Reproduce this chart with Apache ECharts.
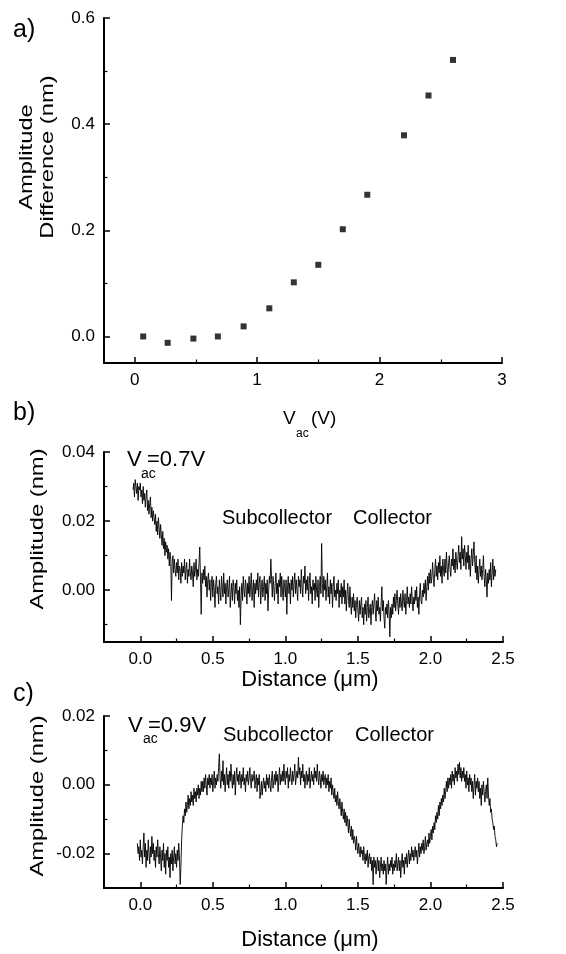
<!DOCTYPE html>
<html>
<head>
<meta charset="utf-8">
<script src="https://cdn.jsdelivr.net/npm/echarts@6/dist/echarts.min.js"></script>
<style>html,body{margin:0;padding:0;background:#fff}#c{width:566px;height:954px}</style>
</head>
<body>
<div id="c"></div>
<script>
// ---- Panel a: amplitude difference vs V_ac ----
const voltage = [0.07, 0.27, 0.48, 0.68, 0.89, 1.10, 1.30, 1.50, 1.70, 1.90, 2.20, 2.40, 2.60];
const ampDiff = [0.000, -0.012, -0.004, 0.000, 0.019, 0.053, 0.102, 0.135, 0.202, 0.267, 0.379, 0.454, 0.521];
const aXMajor = [0, 1, 2, 3];
const aXMinor = [0.5, 1.5, 2.5];
const aYMajor = [0, 0.2, 0.4, 0.6];
const aYMinor = [0.1, 0.3, 0.5];

// ---- Panel b: V_ac = 0.7 V line profile (sampled every 0.005 um from -0.05 um) ----
const distStartB = -0.05;
const distStepB = 0.005;
const ampB = [
0.029,0.031,0.027,0.032,0.030,0.028,0.031,0.026,0.030,0.029,
0.031,0.027,0.029,0.025,0.030,0.026,0.028,0.024,0.027,0.029,
0.023,0.026,0.022,0.025,0.027,0.021,0.024,0.020,0.023,0.021,
0.019,0.022,0.017,0.020,0.016,0.021,0.018,0.015,0.019,0.016,
0.013,0.017,0.012,0.015,0.010,0.014,0.011,0.013,0.009,0.012,
0.007,0.011,0.009,-0.003,0.008,0.010,0.005,0.009,0.006,0.004,
0.008,0.005,0.009,0.003,0.007,0.006,0.002,0.008,0.004,0.007,
0.005,0.009,0.003,0.006,0.008,0.002,0.006,0.004,0.009,0.005,
0.003,0.007,0.005,0.001,0.008,0.004,0.006,0.009,0.003,0.006,
0.004,0.008,0.0125,0.003,-0.007,0.005,0.002,0.006,0.003,0.007,
0.001,0.004,-0.002,0.003,0.005,0.000,0.003,-0.003,0.002,0.004,
-0.002,0.003,0.000,-0.005,0.002,0.004,-0.001,0.001,-0.004,0.003,
0.000,-0.003,0.004,0.001,-0.002,0.005,-0.001,0.002,-0.004,0.001,
0.003,-0.002,0.000,0.004,-0.005,-0.001,0.002,-0.003,0.003,0.001,
-0.004,0.002,-0.001,0.003,-0.003,0.000,-0.005,0.001,-0.010,-0.002,
0.002,-0.003,0.004,0.000,-0.002,0.003,0.001,-0.004,0.002,-0.001,
0.004,-0.002,0.001,0.005,-0.003,0.000,0.003,-0.005,0.002,-0.001,
0.003,0.000,0.005,-0.002,0.002,0.004,-0.004,0.001,0.003,-0.002,
0.001,0.004,-0.003,0.002,-0.001,0.003,-0.006,0.000,0.004,0.002,
0.009,0.003,-0.002,0.004,0.001,-0.003,0.002,0.005,-0.001,0.002,
-0.004,0.003,0.001,0.005,-0.002,0.004,0.000,-0.003,0.003,0.001,
-0.002,0.003,-0.007,0.001,0.004,-0.001,0.002,-0.004,0.003,0.000,
0.004,-0.002,0.002,0.005,-0.001,0.003,0.000,-0.003,0.004,0.001,
0.003,-0.001,0.006,0.001,-0.002,0.004,0.002,0.007,-0.001,0.003,
0.000,0.004,-0.003,0.002,0.005,-0.001,0.001,-0.004,0.003,0.000,
0.002,-0.003,0.004,0.000,-0.002,0.003,-0.005,0.001,0.004,-0.001,
0.0135,0.002,-0.002,0.004,0.000,0.003,-0.003,0.001,0.005,-0.002,
0.001,-0.004,0.003,-0.001,0.002,-0.005,0.001,0.004,-0.002,0.000,
-0.003,0.002,-0.001,0.003,-0.005,0.000,-0.002,0.002,-0.004,0.001,
-0.002,0.003,-0.004,0.000,-0.006,-0.001,0.002,-0.003,-0.005,0.001,
-0.004,-0.007,-0.002,-0.005,-0.001,-0.006,-0.003,-0.008,-0.004,-0.002,
-0.006,-0.009,-0.003,-0.007,-0.004,-0.002,-0.008,-0.005,-0.010,-0.004,
-0.007,-0.003,-0.009,-0.005,-0.002,-0.008,-0.006,-0.004,-0.010,-0.005,
-0.003,-0.007,-0.004,-0.001,-0.006,-0.009,-0.003,-0.006,-0.002,-0.007,
-0.005,-0.009,-0.004,0.001,-0.006,-0.003,-0.008,-0.011,-0.005,-0.007,
-0.004,-0.008,-0.003,-0.006,-0.0135,-0.005,-0.008,-0.004,-0.007,-0.002,
-0.005,-0.001,-0.006,-0.003,0.000,-0.004,-0.007,-0.002,-0.005,-0.001,
-0.004,-0.006,0.000,-0.003,-0.005,-0.001,-0.007,-0.003,0.001,-0.004,
-0.002,-0.005,-0.001,-0.004,0.001,-0.003,-0.006,-0.002,-0.004,0.000,
-0.003,0.001,-0.005,-0.002,-0.007,-0.001,0.002,-0.003,-0.004,0.000,
-0.002,0.002,-0.001,0.003,-0.003,0.001,0.004,0.000,0.005,0.002,
0.006,0.002,0.004,0.008,0.003,0.001,0.006,0.009,0.004,0.007,
0.003,0.008,0.005,0.010,0.004,0.007,0.002,0.009,0.006,0.004,
0.009,0.005,0.011,0.007,0.003,0.008,0.010,0.006,0.004,0.009,
0.007,0.012,0.006,0.009,0.005,0.011,0.008,0.006,0.010,0.013,
0.008,0.011,0.006,0.0155,0.009,0.012,0.007,0.013,0.010,0.006,
0.011,0.008,0.013,0.006,0.010,0.004,0.009,0.012,0.007,0.010,
0.014,0.008,0.005,0.010,0.003,0.007,0.002,0.006,0.009,0.004,
0.007,0.003,0.006,0.010,0.004,0.001,0.006,0.003,-0.002,0.005,
0.002,0.006,0.003,0.008,0.001,0.005,0.009,0.003,0.007,0.004,
0.006
];

// ---- Panel c: V_ac = 0.9 V line profile (sampled every 0.005 um from -0.02 um) ----
const distStartC = -0.02;
const distStepC = 0.005;
const ampC = [
-0.017,-0.020,-0.018,-0.022,-0.016,-0.021,-0.019,-0.023,-0.018,-0.014,
-0.021,-0.017,-0.024,-0.019,-0.022,-0.016,-0.020,-0.023,-0.018,-0.021,
-0.015,-0.020,-0.017,-0.022,-0.019,-0.024,-0.018,-0.021,-0.016,-0.020,
-0.023,-0.018,-0.021,-0.025,-0.019,-0.022,-0.017,-0.024,-0.020,-0.026,
-0.019,-0.022,-0.018,-0.024,-0.021,-0.027,-0.020,-0.023,-0.019,-0.025,
-0.021,-0.018,-0.023,-0.020,-0.024,-0.019,-0.022,-0.017,-0.021,-0.029,
-0.024,-0.016,-0.012,-0.009,-0.011,-0.007,-0.009,-0.005,-0.008,-0.006,
-0.003,-0.007,-0.004,-0.006,-0.002,-0.005,-0.003,-0.006,-0.001,-0.004,
-0.002,-0.005,-0.001,-0.003,0.000,-0.004,-0.001,-0.003,0.001,-0.002,
0.001,-0.002,0.002,-0.001,0.003,0.000,-0.003,0.002,0.000,0.003,
-0.001,0.002,0.000,0.003,-0.002,0.001,0.004,-0.001,0.002,0.000,
0.003,0.001,0.005,0.009,0.002,-0.001,0.004,0.001,0.007,0.000,
0.003,-0.002,0.002,0.005,0.000,0.003,-0.001,0.004,0.001,0.006,
0.002,-0.001,0.003,0.000,0.004,-0.003,0.002,0.005,0.001,0.003,
0.000,0.004,0.002,-0.001,0.003,0.001,0.005,0.000,0.002,-0.002,
0.003,0.001,0.004,0.000,0.002,0.005,0.001,-0.001,0.003,0.001,
0.002,0.004,-0.001,0.001,0.003,-0.002,0.002,0.000,0.003,-0.004,
-0.002,0.001,-0.003,0.000,0.002,-0.001,0.001,-0.002,0.003,0.000,
0.002,-0.001,0.003,0.000,-0.002,0.002,0.004,-0.001,0.001,0.003,
0.000,0.004,0.001,0.003,-0.002,0.002,0.005,0.000,0.003,0.001,
0.004,0.001,0.006,0.002,0.000,0.004,0.002,0.005,-0.001,0.003,
0.001,0.005,0.002,0.000,0.004,0.001,0.003,0.006,0.000,0.002,
0.004,0.002,0.008,0.003,0.005,0.000,0.004,0.002,0.006,0.001,
0.003,-0.001,0.002,0.004,0.000,0.003,0.001,0.005,-0.001,0.002,
0.004,0.001,0.003,0.000,0.005,0.002,0.004,0.001,0.006,0.002,
0.000,0.004,0.002,-0.001,0.003,0.001,0.004,0.000,0.002,0.003,
-0.001,0.002,0.000,0.003,-0.002,0.001,-0.001,0.002,-0.003,0.000,
-0.002,-0.004,-0.001,-0.005,-0.003,-0.006,-0.002,-0.005,-0.007,-0.004,
-0.006,-0.009,-0.005,-0.008,-0.010,-0.007,-0.011,-0.008,-0.012,-0.009,
-0.011,-0.014,-0.010,-0.013,-0.015,-0.012,-0.016,-0.013,-0.017,-0.015,
-0.016,-0.019,-0.015,-0.018,-0.020,-0.017,-0.019,-0.021,-0.018,-0.020,
-0.019,-0.022,-0.018,-0.021,-0.023,-0.020,-0.022,-0.019,-0.024,-0.021,
-0.020,-0.023,-0.021,-0.025,-0.022,-0.029,-0.021,-0.024,-0.022,-0.026,
-0.023,-0.021,-0.025,-0.022,-0.027,-0.024,-0.021,-0.025,-0.023,-0.026,
-0.022,-0.025,-0.023,-0.029,-0.024,-0.021,-0.026,-0.023,-0.025,-0.022,
-0.024,-0.021,-0.026,-0.023,-0.025,-0.022,-0.024,-0.020,-0.025,-0.023,
-0.021,-0.025,-0.022,-0.027,-0.023,-0.020,-0.024,-0.022,-0.026,-0.021,
-0.023,-0.020,-0.024,-0.021,-0.019,-0.023,-0.020,-0.022,-0.018,-0.021,
-0.019,-0.022,-0.020,-0.018,-0.021,-0.019,-0.023,-0.020,-0.017,-0.021,
-0.018,-0.020,-0.017,-0.019,-0.016,-0.020,-0.018,-0.015,-0.019,-0.017,
-0.016,-0.018,-0.014,-0.017,-0.015,-0.013,-0.016,-0.012,-0.014,-0.011,
-0.013,-0.009,-0.011,-0.008,-0.010,-0.006,-0.009,-0.005,-0.007,-0.004,
-0.006,-0.003,-0.005,-0.001,-0.004,-0.002,0.001,-0.002,0.002,-0.001,
0.002,0.000,0.003,-0.001,0.004,0.001,0.003,0.000,0.005,0.002,
0.004,0.001,0.006,0.003,0.0065,0.002,0.005,0.001,0.004,0.002,
0.005,0.001,0.003,-0.001,0.004,0.000,0.002,-0.002,0.003,0.000,
0.002,-0.002,0.001,-0.004,0.000,0.003,-0.003,0.001,-0.001,0.002,
-0.002,0.001,-0.004,-0.001,-0.006,0.000,-0.003,0.001,-0.002,-0.005,
-0.002,0.000,-0.004,0.002,-0.003,-0.006,-0.004,-0.008,-0.007,-0.010,
-0.011,-0.013,-0.012,-0.015,-0.016,-0.018,-0.017
];

const distXMajor = [0, 0.5, 1.0, 1.5, 2.0, 2.5];
const distXMinor = [0.25, 0.75, 1.25, 1.75, 2.25];
const bYMajor = [0, 0.02, 0.04];
const bYMinor = [-0.01, 0.01, 0.03];
const cYMajor = [-0.02, 0, 0.02];
const cYMinor = [-0.01, 0.01];

const FONT = "'Liberation Sans', Arial, sans-serif";

const seriesA = voltage.map((v, i) => [v, ampDiff[i]]);
const seriesB = ampB.map((v, i) => [+(distStartB + i * distStepB).toFixed(3), v]);
const seriesC = ampC.map((v, i) => [+(distStartC + i * distStepC).toFixed(3), v]);

function mainAxis(grid, min, max, major, dec, pos) {
  return {
    type: 'value', gridIndex: grid, min: min, max: max, position: pos,
    axisLine: { show: true, onZero: false, lineStyle: { color: '#000', width: 2 } },
    axisTick: { show: true, inside: true, length: 6, customValues: major, lineStyle: { color: '#000', width: 1.5 } },
    axisLabel: { show: true, customValues: major, margin: 9, color: '#000', fontSize: 17, fontFamily: FONT,
      formatter: v => (Math.abs(v) < 1e-9 ? 0 : v).toFixed(dec) },
    splitLine: { show: false }
  };
}
function minorAxis(grid, min, max, minor, pos) {
  return {
    type: 'value', gridIndex: grid, min: min, max: max, position: pos,
    axisLine: { show: false, onZero: false },
    axisTick: { show: true, inside: true, length: 3.5, customValues: minor, lineStyle: { color: '#000', width: 1.2 } },
    axisLabel: { show: false },
    splitLine: { show: false }
  };
}

function txt(x, y, text, size, align) {
  return {
    type: 'text', x: x, y: y,
    style: { text: text, fill: '#000', font: size + 'px ' + FONT, align: align || 'left', verticalAlign: 'middle' }
  };
}
function vtxt(x, y, text, size, lh) {
  return {
    type: 'text', x: x, y: y, rotation: Math.PI / 2, scaleX: 1.32,
    style: { text: text, fill: '#000', font: size + 'px ' + FONT, align: 'center', verticalAlign: 'middle', lineHeight: lh || size }
  };
}

const chart = echarts.init(document.getElementById('c'), null, { renderer: 'canvas' });
chart.setOption({
  animation: false,
  backgroundColor: '#fff',
  grid: [
    { left: 104, top: 18, width: 398, height: 345 },
    { left: 104, top: 452, width: 399, height: 190 },
    { left: 104, top: 716, width: 399, height: 172 }
  ],
  xAxis: [
    mainAxis(0, -0.25, 3, aXMajor, 0, 'bottom'),
    minorAxis(0, -0.25, 3, aXMinor, 'bottom'),
    mainAxis(1, -0.25, 2.5, distXMajor, 1, 'bottom'),
    minorAxis(1, -0.25, 2.5, distXMinor, 'bottom'),
    mainAxis(2, -0.25, 2.5, distXMajor, 1, 'bottom'),
    minorAxis(2, -0.25, 2.5, distXMinor, 'bottom')
  ],
  yAxis: [
    mainAxis(0, -0.05, 0.6, aYMajor, 1, 'left'),
    minorAxis(0, -0.05, 0.6, aYMinor, 'left'),
    mainAxis(1, -0.015, 0.04, bYMajor, 2, 'left'),
    minorAxis(1, -0.015, 0.04, bYMinor, 'left'),
    mainAxis(2, -0.03, 0.02, cYMajor, 2, 'left'),
    minorAxis(2, -0.03, 0.02, cYMinor, 'left')
  ],
  series: [
    { type: 'scatter', xAxisIndex: 0, yAxisIndex: 0, data: seriesA, symbol: 'rect', symbolSize: 6,
      itemStyle: { color: '#000' } },
    { type: 'line', xAxisIndex: 2, yAxisIndex: 2, data: seriesB, showSymbol: false, symbol: 'none',
      lineStyle: { color: '#000', width: 0.9 } },
    { type: 'line', xAxisIndex: 4, yAxisIndex: 4, data: seriesC, showSymbol: false, symbol: 'none',
      lineStyle: { color: '#000', width: 0.9 } }
  ],
  graphic: [
    txt(13, 30, 'a)', 25),
    txt(13, 413, 'b)', 25),
    txt(13, 694, 'c)', 25),
    // panel a titles
    vtxt(38, 157, 'Amplitude\nDifference (nm)', 18, 21),
    txt(283, 418.5, 'V', 19),
    txt(296, 434, 'ac', 12),
    txt(311, 418.5, '(V)', 19),
    // panel b
    vtxt(38, 529, 'Amplitude (nm)', 18),
    txt(310, 680, 'Distance (\u03bcm)', 22, 'center'),
    txt(127, 460, 'V', 22),
    txt(141, 474, 'ac', 14),
    txt(147, 460, '=0.7V', 22),
    txt(222, 518, 'Subcollector', 20),
    txt(353, 518, 'Collector', 20),
    // panel c
    vtxt(38, 796, 'Amplitude (nm)', 18),
    txt(310, 940, 'Distance (\u03bcm)', 22, 'center'),
    txt(128, 726, 'V', 22),
    txt(143, 739, 'ac', 14),
    txt(148, 726, '=0.9V', 22),
    txt(223, 735, 'Subcollector', 20),
    txt(355, 735, 'Collector', 20)
  ]
});
</script>
</body>
</html>
